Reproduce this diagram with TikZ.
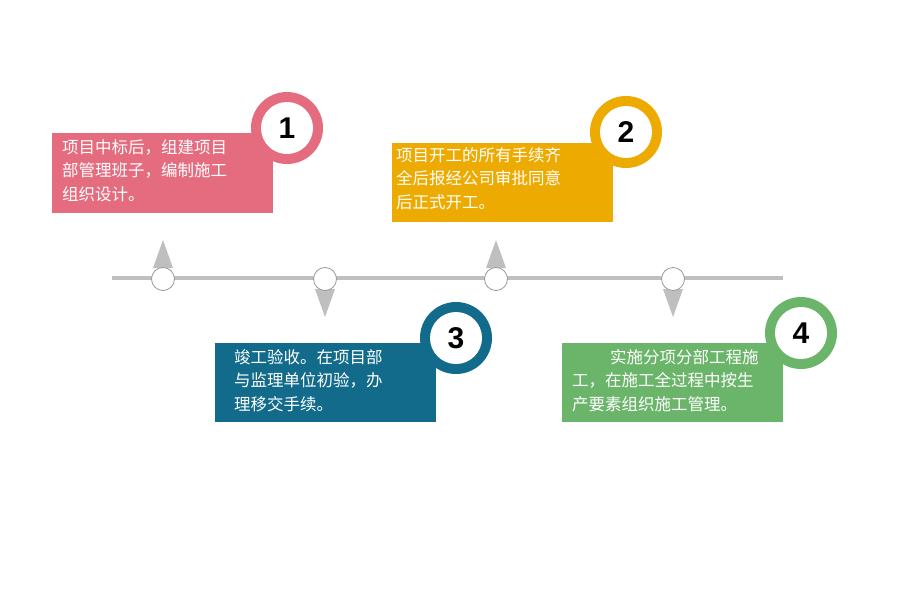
\documentclass[tikz,border=0pt]{standalone}
\usepackage{fontspec}
\newfontfamily\cjk{Noto Sans CJK SC}
\setmainfont{Liberation Sans}
\definecolor{cA}{HTML}{E46C7E}
\definecolor{cB}{HTML}{EDAA00}
\definecolor{cC}{HTML}{126B8B}
\definecolor{cD}{HTML}{6BB56A}
\definecolor{ln}{HTML}{BFBFBF}
\begin{document}
\begin{tikzpicture}[x=1pt,y=-1pt,
  card/.style={anchor=north west,inner sep=0pt,text=white,font=\cjk\fontsize{16.5}{23.5}\selectfont,align=left},
  badge/.style={circle,minimum size=72pt,fill=#1,inner sep=0},
  inner/.style={circle,minimum size=52pt,fill=white,font=\bfseries\fontsize{30}{30}\selectfont,inner sep=0},
  dot/.style={circle,minimum size=23pt,draw=ln!80!black,line width=0.8pt,fill=white,inner sep=0},
  tri/.style={fill=ln}]
\useasboundingbox (0,0) rectangle (900,600);
\coordinate (L) at (112,278); \coordinate (R) at (783,278);
\draw[ln,line width=4pt] (L) -- (R);
% triangles
\fill[tri] (163,240) -- (153,268) -- (173,268) -- cycle;
\fill[tri] (496,240) -- (486,268) -- (506,268) -- cycle;
\fill[tri] (325,317) -- (315,289) -- (335,289) -- cycle;
\fill[tri] (673,317) -- (663,289) -- (683,289) -- cycle;
\node[dot] (d1) at (163,279) {};
\node[dot] (d2) at (325,279) {};
\node[dot] (d3) at (496,279) {};
\node[dot] (d4) at (673,279) {};
% cards
\fill[cA] (52,133) rectangle (273,213);
\node[badge=cA] (b1) at (287,128) {}; \node[inner] (n1) at (b1) {1};
\node[card] (t1) at (62,139) {项目中标后，组建项目\\部管理班子，编制施工\\组织设计。};
\fill[cB] (392,143) rectangle (613,222);
\node[badge=cB] (b2) at (626,132) {}; \node[inner] (n2) at (b2) {2};
\node[card] (t2) at (396,147) {项目开工的所有手续齐\\全后报经公司审批同意\\后正式开工。};
\fill[cC] (215,343) rectangle (436,422);
\node[badge=cC] (b3) at (456,338) {}; \node[inner] (n3) at (b3) {3};
\node[card] (t3) at (234,349) {竣工验收。在项目部\\与监理单位初验，办\\理移交手续。};
\fill[cD] (562,343) rectangle (783,422);
\node[badge=cD] (b4) at (801,333) {}; \node[inner] (n4) at (b4) {4};
\node[card] (t4) at (572,349) {\hspace*{2.3em}实施分项分部工程施\\工，在施工全过程中按生\\产要素组织施工管理。};
\end{tikzpicture}
\end{document}
